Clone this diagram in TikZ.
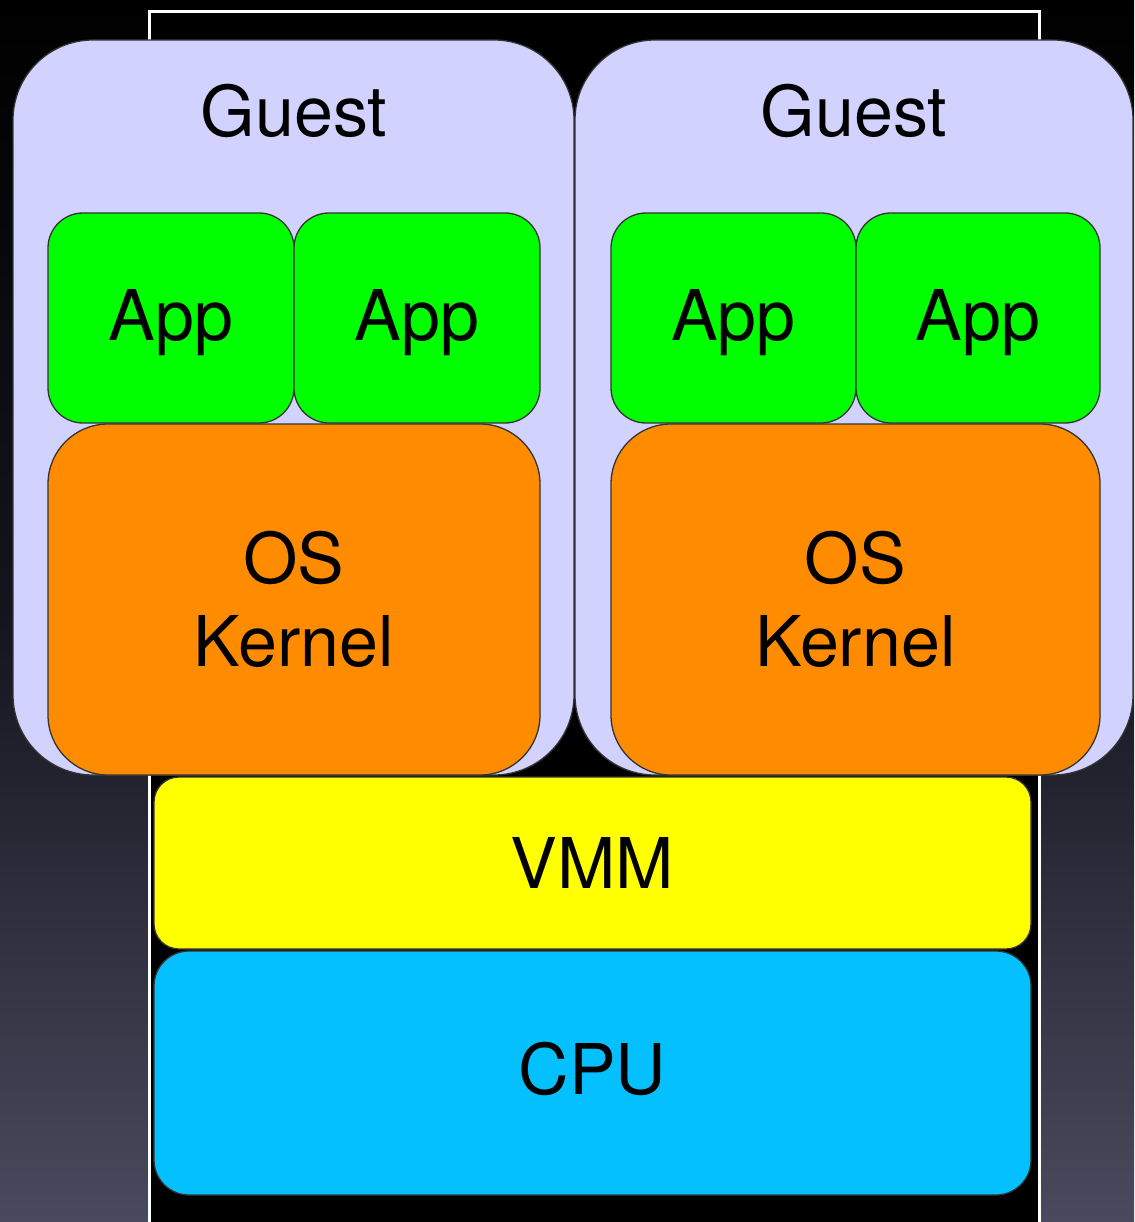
\documentclass[tikz,border=0pt]{standalone}
\usepackage{fontspec}
\setmainfont{TeX Gyre Heros}
\newcommand\bigtxt{\fontsize{70}{83}\selectfont}
\definecolor{guestc}{RGB}{210,210,255}
\definecolor{appc}{RGB}{0,255,0}
\definecolor{osc}{RGB}{255,140,0}
\definecolor{vmmc}{RGB}{255,255,0}
\definecolor{cpuc}{RGB}{5,192,255}
\definecolor{bgbot}{RGB}{74,74,94}
\tikzset{
  layer/.style={draw=black!80, line width=1.3pt, rectangle, inner sep=0pt,
    font=\bigtxt, align=center},
  oneline/.style={text height=50pt, text depth=0pt},
  guestbox/.style={layer, fill=guestc, rounded corners=80pt},
  appbox/.style={layer, oneline, text depth=6pt, fill=appc, rounded corners=35pt, minimum width=246pt, minimum height=210pt},
  osbox/.style={layer, fill=osc, rounded corners=60pt, minimum height=351pt},
  vmmbox/.style={layer, oneline, fill=vmmc, rounded corners=25pt, minimum width=877pt, minimum height=172pt},
  cpubox/.style={layer, oneline, text depth=8pt, fill=cpuc, rounded corners=35pt, minimum width=877pt, minimum height=244pt},
  lbl/.style={font=\bigtxt, anchor=base, inner sep=0pt}
}
\begin{document}
\begin{tikzpicture}[x=1pt,y=-1pt]
\useasboundingbox (0,0) rectangle (1134,1222);
\shade[top color=black, bottom color=bgbot, middle color={rgb,255:red,20;green,20;blue,30}] (0,0) rectangle (1134,1222);
% host frame
\draw[white, line width=3pt, fill=black] (149,12) rectangle (1039,1260);
% guests
\node[guestbox, minimum width=561pt, minimum height=735pt] (g1) at (293.5,407.5) {};
\node[guestbox, minimum width=558pt, minimum height=735pt] (g2) at (854,407.5) {};
\node[lbl] (g1t) at (294,137) {Guest};
\node[lbl] (g2t) at (854,137) {Guest};
% apps
\node[appbox] (a1) at (171,318) {App};
\node[appbox] (a2) at (417,318) {App};
\node[appbox, minimum width=245pt] (a3) at (733.5,318) {App};
\node[appbox, minimum width=244pt] (a4) at (978,318) {App};
% kernels
\node[osbox, minimum width=492pt] (os1) at (294,599.5) {OS\\Kernel};
\node[osbox, minimum width=489pt] (os2) at (855.5,599.5) {OS\\Kernel};
% vmm and cpu
\node[vmmbox] (vmm) at (592.5,863) {VMM};
\node[cpubox] (cpu) at (592.5,1073) {CPU};
\end{tikzpicture}
\end{document}
